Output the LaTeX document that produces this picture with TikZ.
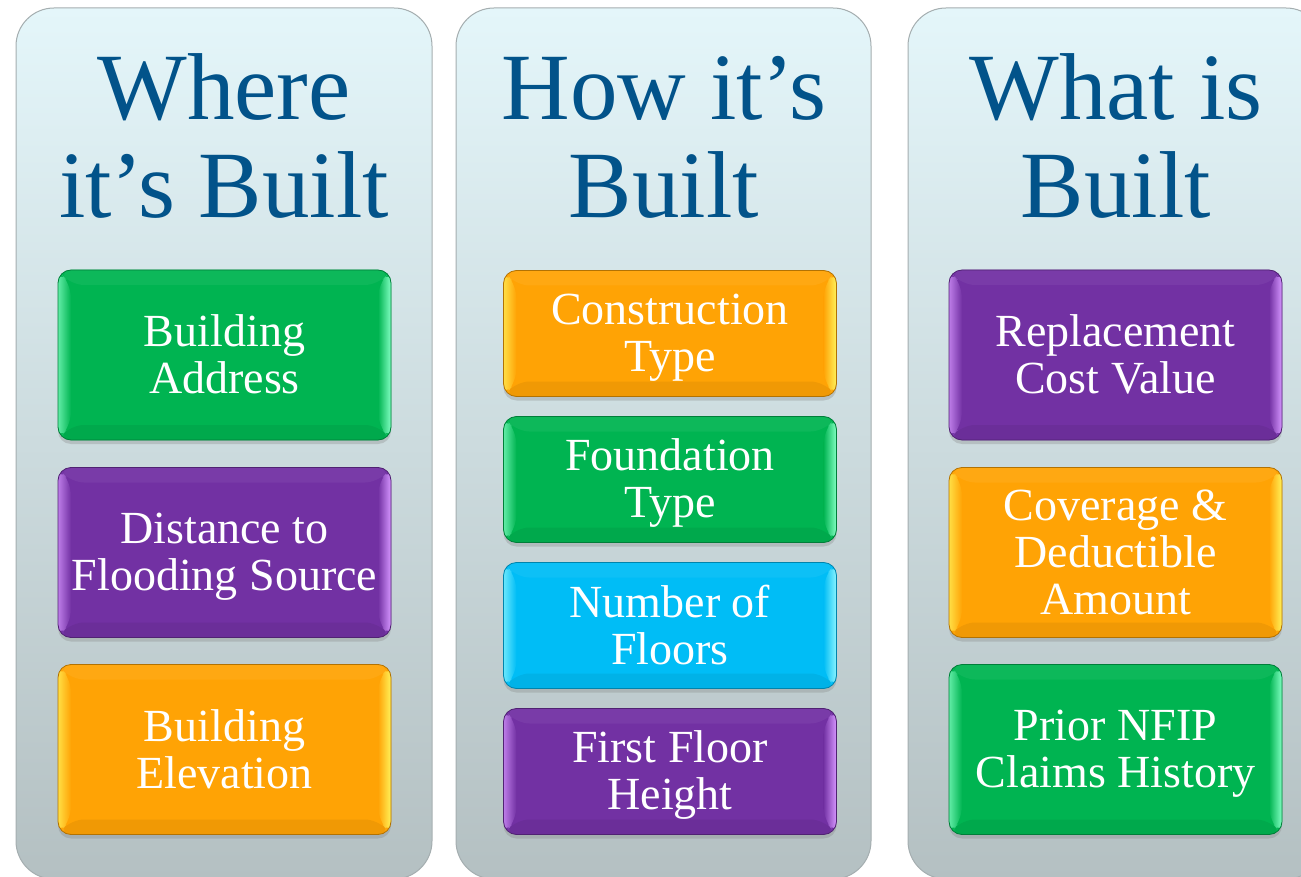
\documentclass[tikz,border=0pt]{standalone}
\usepackage{fontspec}
\setmainfont{Liberation Serif}
\usetikzlibrary{calc,shadows}
\definecolor{titleblue}{RGB}{2,83,138}
\definecolor{gbase}{RGB}{0,180,81}
\definecolor{glight}{RGB}{130,255,195}
\definecolor{pbase}{RGB}{114,49,163}
\definecolor{plight}{RGB}{214,150,255}
\definecolor{obase}{RGB}{255,163,5}
\definecolor{olight}{RGB}{255,242,90}
\definecolor{cbase}{RGB}{0,189,246}
\definecolor{clight}{RGB}{140,245,255}
\definecolor{pantop}{RGB}{228,246,250}
\definecolor{panmid}{RGB}{219,234,238}
\definecolor{panbot}{RGB}{180,192,194}
\definecolor{panline}{RGB}{165,174,176}
\newcommand{\ts}{\rule[-8pt]{0pt}{46pt}}
\newcommand{\itemfont}{\fontsize{46pt}{47pt}\selectfont\lineskiplimit=-100pt\relax}
\tikzset{
  panel/.style={draw=panline, line width=1pt, rounded corners=38pt,
    top color=pantop, middle color=panmid, bottom color=panbot},
  title/.style={text=titleblue, font=\fontsize{95pt}{98pt}\selectfont,
    anchor=base, inner sep=0pt},
  item/.style 2 args={draw=#1!70!black, line width=0.8pt, fill=#1,
    rounded corners=13pt, minimum width=333pt, text=white, align=center,
    font=\itemfont, inner sep=0pt,
    drop shadow={shadow xshift=0pt,shadow yshift=-4pt,opacity=0.3},
    path picture={
      \fill[#1!95!white] (path picture bounding box.north west) -- (path picture bounding box.north east)
        -- ($(path picture bounding box.north east)+(-13pt,-15pt)$) -- ($(path picture bounding box.north west)+(13pt,-15pt)$) -- cycle;
      \fill[#1!94!black] (path picture bounding box.south west) -- (path picture bounding box.south east)
        -- ($(path picture bounding box.south east)+(-13pt,15pt)$) -- ($(path picture bounding box.south west)+(13pt,15pt)$) -- cycle;
      \shade[left color=#2!75!#1, right color=#1] (path picture bounding box.north west)
        -- ($(path picture bounding box.north west)+(13pt,-15pt)$) -- ($(path picture bounding box.south west)+(13pt,15pt)$)
        -- (path picture bounding box.south west) -- cycle;
      \shade[left color=#1, right color=#2] (path picture bounding box.north east)
        -- ($(path picture bounding box.north east)+(-13pt,-15pt)$) -- ($(path picture bounding box.south east)+(-13pt,15pt)$)
        -- (path picture bounding box.south east) -- cycle;
    }},
  tall/.style={minimum height=170pt},
  short/.style={minimum height=126pt},
}
\begin{document}
\begin{tikzpicture}[x=1pt,y=-1pt]
\useasboundingbox (0,0) rectangle (1301,877);
\clip (0,0) rectangle (1301,877);
\fill[white] (0,0) rectangle (1301,877);
% panels
\path[panel] (16,8) rectangle (432,879);
\path[panel] (456,8) rectangle (871,879);
\path[panel] (908,8) rectangle (1324,879);
% titles
\node[title] (t1a) at (224,120) {Where};
\node[title] (t1b) at (224,218) {it’s Built};
\node[title] (t2a) at (664,120) {How it’s};
\node[title] (t2b) at (664,218) {Built};
\node[title] (t3a) at (1116,120) {What is};
\node[title] (t3b) at (1116,218) {Built};
% column 1
\node[item={gbase}{glight}, tall] (a1) at (224.5,355) {\ts Building\\\ts Address};
\node[item={pbase}{plight}, tall] (a2) at (224.5,552.5) {\ts Distance to\\\ts Flooding Source};
\node[item={obase}{olight}, tall] (a3) at (224.5,749.5) {\ts Building\\\ts Elevation};
% column 2
\node[item={obase}{olight}, short] (b1) at (670,333.5) {\ts Construction\\\ts Type};
\node[item={gbase}{glight}, short] (b2) at (670,479.5) {\ts Foundation\\\ts Type};
\node[item={cbase}{clight}, short] (b3) at (670,625.5) {\ts Number of\\\ts Floors};
\node[item={pbase}{plight}, short] (b4) at (670,771.5) {\ts First Floor\\\ts Height};
% column 3
\node[item={pbase}{plight}, tall] (c1) at (1115.5,355) {\ts Replacement\\\ts Cost Value};
\node[item={obase}{olight}, tall] (c2) at (1115.5,552.5) {\ts Coverage \&\\\ts Deductible\\\ts Amount};
\node[item={gbase}{glight}, tall] (c3) at (1115.5,749.5) {\ts Prior NFIP\\\ts Claims History};
\end{tikzpicture}
\end{document}
